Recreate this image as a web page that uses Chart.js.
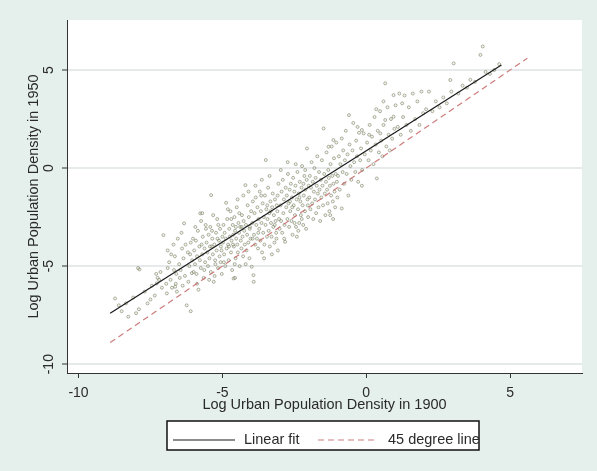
<!DOCTYPE html>
<html>
<head>
<meta charset="utf-8">
<script src="https://cdn.jsdelivr.net/npm/chart.js@4.4.0/dist/chart.umd.min.js"></script>
<style>
    body { margin: 0; background: #e5f0ec; }
    #myChart { display: block; }
</style>
</head>
<body>
<canvas id="myChart" width="597" height="471"></canvas>
<script>
// ticks of both axes
const xTicks = [-10, -5, 0, 5];
const yTicks = [-10, -5, 0, 5];

// fitted line and 45 degree line (ends)
const fitLineX = [-8.9, 4.7];
const fitLineY = [-7.4, 5.25];
const degreeLineX = [-8.9, 5.6];
const degreeLineY = [-8.9, 5.6];

const legendLabels = ["Linear fit", "45 degree line"];

// [log density 1900, log density 1950], one per city (estimated)
const cityPoints = [
    [-8.73,-6.65],[-8.27,-7.58],[-8.0,-7.4],[-8.5,-7.3],[-8.6,-7.0],[-8.1,-6.6],[-8.35,-6.9],
    [-7.88,-5.17],[-7.7,-6.3],[-7.6,-6.9],[-7.45,-6.0],[-7.3,-5.4],[-7.28,-5.88],[-7.25,-5.6],[-7.2,-5.7],
    [-7.35,-6.5],[-7.1,-6.1],[-7.5,-6.7],[-7.9,-7.2],[-7.15,-5.3],[-7.93,-5.1],
    [-6.93,-6.39],[-6.8,-5.7],[-6.75,-6.1],[-6.6,-5.4],[-6.62,-5.9],[-7.05,-3.42],[-6.9,-4.2],[-6.85,-4.8],
    [-6.7,-3.9],[-6.65,-4.5],[-6.55,-3.6],[-6.5,-4.9],[-6.45,-5.2],[-6.4,-4.1],[-6.35,-4.6],[-6.33,-2.82],
    [-6.3,-5.5],[-6.24,-7.0],[-6.2,-4.3],[-6.15,-5.0],[-6.1,-7.3],[-6.1,-3.8],[-6.05,-4.7],[-6.0,-5.3],
    [-6.9,-5.1],[-6.78,-4.4],[-6.58,-6.3],[-6.42,-3.3],[-6.28,-3.9],[-6.18,-5.8],[-6.12,-4.4],[-6.02,-3.6],
    [-6.48,-5.6],[-6.68,-5.2],[-6.95,-5.9],[-6.38,-6.0],[-6.64,-6.05],[-6.06,-5.36],
    [-5.98,-4.2],[-5.95,-4.9],[-5.92,-3.7],[-5.9,-5.4],[-5.88,-4.5],[-5.85,-3.2],[-5.83,-6.2],[-5.8,-4.0],
    [-5.78,-4.7],[-5.77,-2.31],[-5.75,-5.1],[-5.72,-3.9],[-5.7,-4.4],[-5.68,-3.5],[-5.65,-5.6],[-5.62,-4.1],
    [-5.6,-4.8],[-5.58,-2.9],[-5.55,-3.8],[-5.52,-4.3],[-5.5,-5.0],[-5.48,-3.4],[-5.45,-4.6],[-5.42,-3.0],
    [-5.4,-5.3],[-5.39,-1.38],[-5.37,-4.0],[-5.35,-3.6],[-5.33,-4.4],[-5.3,-5.8],[-5.28,-3.9],[-5.25,-4.7],
    [-5.22,-3.3],[-5.2,-4.2],[-5.18,-2.6],[-5.15,-5.1],[-5.12,-3.7],[-5.1,-4.5],[-5.08,-3.1],[-5.05,-4.0],
    [-5.02,-5.4],[-5.0,-3.5],[-5.88,-5.9],[-5.57,-3.1],[-5.46,-5.7],[-5.32,-2.4],[-5.24,-4.9],[-5.14,-2.9],
    [-5.06,-4.8],[-5.94,-3.0],[-5.74,-2.7],[-5.63,-5.2],[-5.43,-4.0],[-5.36,-3.2],[-5.27,-5.5],[-5.17,-3.6],
    [-5.03,-4.2],[-5.7,-2.3],
    [-4.98,-3.8],[-4.96,-2.9],[-4.94,-4.4],[-4.92,-3.3],[-4.9,-5.0],[-4.88,-3.6],[-4.87,-1.77],[-4.85,-4.1],
    [-4.83,-2.6],[-4.8,-3.9],[-4.78,-4.7],[-4.76,-3.1],[-4.74,-3.5],[-4.72,-2.2],[-4.7,-4.3],[-4.68,-3.7],
    [-4.66,-5.2],[-4.64,-2.9],[-4.62,-3.4],[-4.61,-5.63],[-4.6,-4.0],[-4.58,-2.5],[-4.56,-3.2],[-4.54,-4.6],
    [-4.52,-3.6],[-4.5,-2.0],[-4.48,-3.9],[-4.46,-4.3],[-4.44,-2.8],[-4.42,-3.3],[-4.4,-5.0],[-4.38,-3.0],
    [-4.36,-3.7],[-4.34,-4.1],[-4.32,-2.4],[-4.3,-3.5],[-4.28,-4.5],[-4.26,-2.7],[-4.24,-3.2],[-4.22,-3.9],
    [-4.2,-0.87],[-4.18,-2.9],[-4.16,-4.2],[-4.14,-3.4],[-4.12,-1.9],[-4.1,-3.8],[-4.08,-2.5],[-4.06,-4.6],
    [-4.04,-3.0],[-4.02,-3.6],[-4.0,-2.2],[-4.95,-4.8],[-4.81,-2.1],[-4.69,-2.6],[-4.57,-4.9],[-4.47,-1.6],
    [-4.33,-3.0],[-4.27,-1.4],[-4.19,-4.9],[-4.09,-1.2],[-4.05,-3.1],[-4.63,-3.9],[-4.41,-2.3],[-4.77,-4.0],
    [-4.53,-3.0],[-4.56,-5.6],
    [-3.98,-5.03],[-3.96,-2.8],[-3.94,-1.7],[-3.92,-5.46],[-3.91,-5.8],[-3.9,-3.4],[-3.88,-2.3],[-3.86,-3.9],
    [-3.84,-1.5],[-3.82,-2.9],[-3.8,-3.6],[-3.78,-2.0],[-3.76,-4.1],[-3.74,-2.6],[-3.72,-3.1],[-3.7,-1.2],
    [-3.68,-3.7],[-3.66,-2.2],[-3.64,-2.8],[-3.62,-4.3],[-3.6,-1.8],[-3.58,-3.3],[-3.56,-2.5],[-3.54,-3.9],
    [-3.52,-1.4],[-3.5,-2.9],[-3.49,0.41],[-3.47,-2.1],[-3.45,-3.5],[-3.43,-2.6],[-3.41,-1.0],[-3.39,-3.2],
    [-3.37,-2.3],[-3.35,-4.0],[-3.33,-1.7],[-3.31,-2.8],[-3.29,-3.5],[-3.27,-2.0],[-3.25,-1.3],[-3.23,-3.0],
    [-3.21,-2.4],[-3.19,-3.8],[-3.17,-1.6],[-3.15,-2.7],[-3.13,-3.3],[-3.11,-1.9],[-3.09,-2.2],[-3.07,-4.2],
    [-3.05,-0.8],[-3.03,-2.6],[-3.01,-3.1],[-3.85,-0.9],[-3.75,-3.3],[-3.63,-0.6],[-3.55,-4.6],[-3.44,-1.9],
    [-3.36,-0.4],[-3.28,-4.4],[-3.18,-2.9],[-3.08,-1.4],[-3.95,-3.6],[-3.65,-1.4],[-3.32,-2.2],[-3.12,-3.6],
    [-2.98,-1.9],[-2.96,-2.7],[-2.94,-1.2],[-2.92,-3.3],[-2.9,-0.6],[-2.88,-2.3],[-2.86,-1.6],[-2.84,-2.9],
    [-2.82,-3.76],[-2.8,-1.0],[-2.78,-2.0],[-2.76,-1.4],[-2.74,-2.6],[-2.72,-0.3],[-2.7,-1.8],[-2.68,-3.0],
    [-2.66,-1.1],[-2.64,-2.2],[-2.62,-0.8],[-2.6,-2.7],[-2.58,-1.5],[-2.56,-3.4],[-2.54,-0.5],[-2.52,-1.9],
    [-2.5,-1.2],[-2.48,-2.4],[-2.46,-0.9],[-2.44,-3.0],[-2.42,-1.6],[-2.41,-3.5],[-2.39,-0.2],[-2.37,-2.1],
    [-2.35,-1.3],[-2.33,-2.8],[-2.31,-0.7],[-2.29,-1.7],[-2.27,-2.4],[-2.25,-1.0],[-2.23,0.1],[-2.21,-1.9],
    [-2.19,-2.9],[-2.17,-1.4],[-2.15,-0.4],[-2.13,-2.2],[-2.11,-1.1],[-2.09,-3.1],[-2.07,-0.6],[-2.06,1.0],
    [-2.04,-1.6],[-2.02,-2.5],[-2.0,-0.9],[-2.97,-0.1],[-2.85,-3.6],[-2.73,0.3],[-2.57,-2.0],[-2.45,0.2],
    [-2.36,-3.2],[-2.24,-2.6],[-2.12,-0.1],[-2.03,-1.9],[-2.65,-1.7],[-2.49,-2.8],[-2.32,-1.5],[-2.18,-0.8],
    [-1.98,-1.5],[-1.96,-0.4],[-1.94,-2.1],[-1.92,-1.0],[-1.9,0.3],[-1.88,-1.8],[-1.86,-0.7],[-1.84,-2.6],
    [-1.82,-1.2],[-1.8,0.0],[-1.78,-1.6],[-1.76,-0.5],[-1.74,-2.3],[-1.72,-0.9],[-1.7,0.6],[-1.68,-1.3],
    [-1.66,-2.0],[-1.64,-0.2],[-1.62,-1.1],[-1.6,-2.7],[-1.58,-0.6],[-1.56,-1.5],[-1.54,0.4],[-1.52,-0.9],
    [-1.5,-1.9],[-1.48,2.02],[-1.46,-0.3],[-1.44,-1.3],[-1.42,-2.4],[-1.4,-0.7],[-1.38,0.8],[-1.36,-1.1],
    [-1.34,-1.8],[-1.32,-0.1],[-1.3,-0.5],[-1.28,-2.2],[-1.26,-0.9],[-1.24,0.2],[-1.22,-1.4],[-1.2,1.1],
    [-1.18,-0.4],[-1.16,-1.7],[-1.14,-0.8],[-1.12,0.5],[-1.1,-1.2],[-1.08,-2.0],[-1.06,-0.3],[-1.04,1.3],
    [-1.02,-0.7],[-1.0,-1.5],[-1.31,1.09],[-1.14,1.43],[-1.15,-2.6],[-1.25,-2.4],
    [-0.98,-0.4],[-0.95,0.6],[-0.92,-1.1],[-0.9,0.2],[-0.85,1.51],[-0.85,-2.06],[-0.82,-0.2],[-0.8,0.9],
    [-0.77,-0.8],[-0.74,0.4],[-0.71,1.9],[-0.68,-0.3],[-0.65,0.7],[-0.62,-1.4],[-0.58,1.2],[-0.55,0.1],
    [-0.52,-0.6],[-0.48,0.9],[-0.45,2.3],[-0.42,0.3],[-0.38,-0.2],[-0.35,1.4],[-0.32,0.6],[-0.28,-0.7],
    [-0.25,1.8],[-0.21,0.4],[-0.18,1.0],[-0.14,-0.1],[-0.09,1.77],[-0.05,0.7],[-0.6,2.7],[-0.3,2.1],
    [-0.15,-0.9],[-0.15,1.94],
    [0.03,1.3],[0.08,0.4],[0.12,2.2],[0.16,0.9],[0.2,1.6],[0.25,0.2],[0.29,2.6],[0.33,1.2],
    [0.37,-0.53],[0.4,1.9],[0.44,0.8],[0.48,2.9],[0.52,1.4],[0.56,0.6],[0.6,2.2],[0.66,4.32],
    [0.7,1.1],[0.74,3.1],[0.78,1.7],[0.82,0.9],[0.86,2.5],[0.9,1.5],[0.95,3.72],[0.98,2.0],
    [0.6,3.4],[0.1,1.7],[0.35,3.0],[0.95,2.62],[0.66,2.45],[0.49,1.77],
    [1.02,3.2],[1.1,2.1],[1.15,3.8],[1.2,1.7],[1.28,2.6],[1.33,3.7],[1.4,2.2],[1.48,3.1],
    [1.55,1.9],[1.62,3.8],[1.7,2.5],[1.78,3.4],[1.85,2.2],[1.92,3.9],[1.98,2.8],[1.25,3.3],
    [2.08,3.0],[2.18,3.9],[2.3,2.9],[2.42,3.4],[2.55,3.1],[2.68,3.6],[2.8,3.3],[2.92,4.49],[2.96,3.9],
    [3.04,5.34],[3.2,3.8],[3.35,4.2],[3.5,4.1],[3.62,4.5],[3.78,4.4],[3.97,5.77],[4.05,6.2],
    [4.15,4.9],[4.3,4.8],[4.45,5.0],[4.62,5.3]
];

const fontName = "'Liberation Sans', Arial, sans-serif";
const textColor = "#2a2a2a";

// fondo blanco del area del grafico
const plotBackground = {
    id: 'plotBackground',
    beforeDraw(chart) {
        const { ctx, chartArea } = chart;
        ctx.save();
        ctx.fillStyle = "#ffffff";
        ctx.fillRect(chartArea.left, chartArea.top, chartArea.right - chartArea.left, chartArea.bottom - chartArea.top);
        ctx.restore();
    }
};

// leyenda con recuadro debajo del eje x
const boxLegend = {
    id: 'boxLegend',
    afterDraw(chart) {
        const ctx = chart.ctx;
        const fit = chart.data.datasets[0];
        const diag = chart.data.datasets[1];
        const top = 421, bottom = 450, left = 167, right = 479;
        const midY = 440;
        ctx.save();
        ctx.fillStyle = "#ffffff";
        ctx.fillRect(left, top, right - left, bottom - top);
        ctx.strokeStyle = "#111";
        ctx.lineWidth = 1.5;
        ctx.strokeRect(left, top, right - left, bottom - top);

        ctx.lineWidth = fit.borderWidth;
        ctx.strokeStyle = fit.borderColor;
        ctx.beginPath();
        ctx.moveTo(173, midY);
        ctx.lineTo(235, midY);
        ctx.stroke();

        ctx.strokeStyle = diag.borderColor;
        ctx.setLineDash(diag.borderDash);
        ctx.beginPath();
        ctx.moveTo(318, midY);
        ctx.lineTo(378, midY);
        ctx.stroke();
        ctx.setLineDash([]);

        ctx.fillStyle = textColor;
        ctx.font = "14.5px " + fontName;
        ctx.textBaseline = "middle";
        ctx.fillText(fit.label, 244, midY);
        ctx.fillText(diag.label, 388, midY);
        ctx.restore();
    }
};

const ctx = document.getElementById('myChart');

new Chart(ctx, {
    type: 'scatter',
    data: {
        datasets: [{
            label: legendLabels[0],
            type: 'line',
            data: fitLineX.map((x, i) => ({ x: x, y: fitLineY[i] })),
            borderColor: "#1a1a1a",
            borderWidth: 1.2,
            pointRadius: 0,
            fill: false
        }, {
            label: legendLabels[1],
            type: 'line',
            data: degreeLineX.map((x, i) => ({ x: x, y: degreeLineY[i] })),
            borderColor: "rgba(200,110,110,0.9)",
            borderWidth: 1.2,
            borderDash: [6, 4],
            pointRadius: 0,
            fill: false
        }, {
            label: 'cities',
            data: cityPoints.map(p => ({ x: p[0], y: p[1] })),
            pointRadius: 1.5,
            pointBorderWidth: 0.8,
            borderColor: "rgba(95,100,85,0.6)",
            backgroundColor: "rgba(215,228,170,0.3)"
        }]
    },
    options: {
        responsive: false,
        animation: false,
        layout: { padding: { left: 0, right: 15, top: 20, bottom: 0 } },
        plugins: {
            legend: { display: false },
            tooltip: { enabled: false }
        },
        scales: {
            x: {
                type: 'linear',
                min: -10.4,
                max: 7.5,
                afterBuildTicks: s => { s.ticks = xTicks.map(v => ({ value: v })); },
                afterFit: s => { s.height = 98; },
                grid: { drawOnChartArea: false, drawTicks: true, tickLength: 5, color: "#333", tickColor: "#333" },
                border: { display: true, color: "#333", width: 1 },
                ticks: { padding: 7, color: textColor, font: { family: fontName, size: 14 }, maxRotation: 0 },
                title: {
                    display: true,
                    text: "Log Urban Population Density in 1900",
                    color: textColor,
                    font: { family: fontName, size: 14.5 },
                    padding: { top: 0, bottom: 57 }
                }
            },
            y: {
                type: 'linear',
                min: -10.45,
                max: 7.55,
                afterBuildTicks: s => { s.ticks = yTicks.map(v => ({ value: v })); },
                afterFit: s => { s.width = 67; },
                grid: { color: "#e6eaea", lineWidth: 2, drawTicks: true, tickLength: 5, tickColor: "#333", tickWidth: 1 },
                border: { display: true, color: "#333", width: 1 },
                ticks: {
                    padding: 3, color: textColor, font: { family: fontName, size: 14 },
                    minRotation: 90, maxRotation: 90, crossAlign: 'center'
                },
                title: {
                    display: true,
                    text: "Log Urban Population Density in 1950",
                    color: textColor,
                    font: { family: fontName, size: 14.5 },
                    padding: { top: 25, bottom: 0 }
                }
            }
        }
    },
    plugins: [plotBackground, boxLegend]
});
</script>
</body>
</html>
